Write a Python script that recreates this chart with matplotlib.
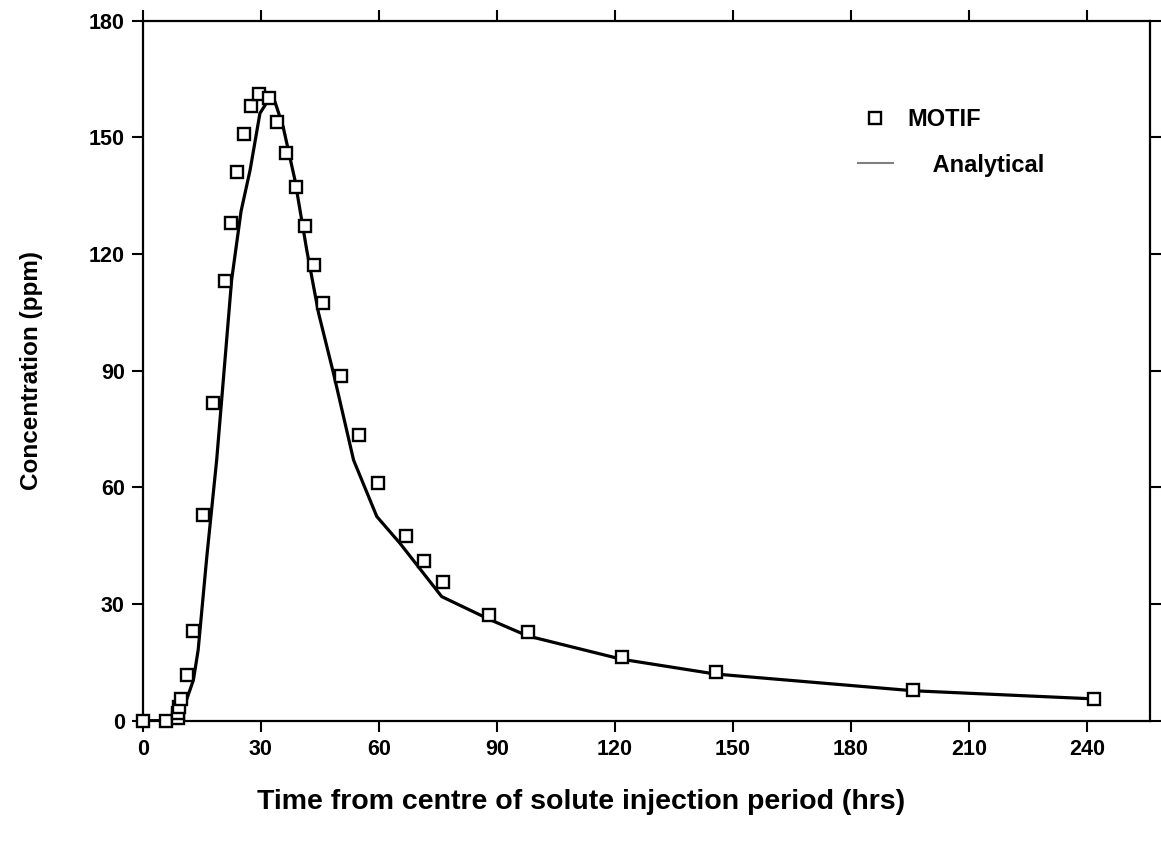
import matplotlib
matplotlib.use('Agg')
import matplotlib.pyplot as plt
from matplotlib.lines import Line2D

# MOTIF simulation results
motif_time = [0, 5.8, 8.9, 9.1, 9.3, 9.8, 11.2, 12.7, 15.4, 17.8, 20.9, 22.4,
              23.9, 25.7, 27.5, 29.6, 32.1, 34.2, 36.4, 39.0, 41.3, 43.6, 45.8,
              50.4, 55.1, 59.7, 66.8, 71.5, 76.3, 88.1, 98.0, 121.9, 145.8,
              195.7, 241.7]
motif_conc = [0, 0, 0.6, 1.9, 3.4, 5.5, 11.7, 23.1, 52.9, 81.6, 113.1, 128.1,
              141.2, 150.9, 158.1, 161.1, 160.2, 154.0, 146.1, 137.3, 127.2,
              117.1, 107.3, 88.6, 73.5, 61.2, 47.5, 41.0, 35.7, 27.2, 22.9,
              16.3, 12.6, 7.9, 5.6]

# Analytical solution
ana_time = [0, 5.8, 8.6, 11.2, 12.9, 14.1, 16.3, 18.8, 22.6, 25.0, 27.3, 29.8,
            32.2, 33.6, 35.7, 38.7, 41.7, 44.7, 48.5, 53.6, 59.5, 65.4, 76.0,
            88.2, 97.8, 121.7, 145.5, 195.7, 241.7]
ana_conc = [0, 0, 0.2, 5.5, 10.5, 18.2, 42.2, 67.0, 113.3, 131.0, 141.6, 156.2,
            160.0, 159.2, 152.7, 139.0, 121.0, 104.8, 89.3, 67.0, 52.5, 45.6,
            31.9, 26.0, 21.8, 15.8, 12.0, 7.7, 5.6]

xticks = [0, 30, 60, 90, 120, 150, 180, 210, 240]
yticks = [0, 30, 60, 90, 120, 150, 180]

plt.rcParams['font.family'] = ['Liberation Sans', 'DejaVu Sans']

fig = plt.figure(figsize=(11.61, 8.42), dpi=100)
ax = fig.add_axes([0.1229, 0.1441, 0.8676, 0.8313])

ax.plot(ana_time, ana_conc, color='black', lw=2.3, zorder=2)
ax.plot(motif_time, motif_conc, ls='none', marker='s', ms=8.3, mfc='white',
        mec='black', mew=1.7, clip_on=False, zorder=3)

ax.set_xlim(0, 256)
ax.set_ylim(0, 180)
ax.set_xticks(xticks)
ax.set_yticks(yticks)

for s in ax.spines.values():
    s.set_linewidth(1.6)

ax.tick_params(which='both', direction='out', length=8, width=1.5,
               top=True, right=True, labelsize=15.5)
ax.tick_params(axis='x', pad=5)
ax.tick_params(axis='y', pad=5)
for lab in ax.get_xticklabels() + ax.get_yticklabels():
    lab.set_fontweight('bold')

ax.set_xlabel('Time from centre of solute injection period (hrs)',
              fontsize=20.5, fontweight='bold')
ax.xaxis.set_label_coords(0.435, -0.097)
ax.set_ylabel('Concentration (ppm)', fontsize=17.5, fontweight='bold',
              labelpad=33)

handles = [
    Line2D([], [], ls='none', marker='s', ms=8.3, mfc='white', mec='black',
           mew=1.7),
    Line2D([], [], color='gray', lw=1.5),
]
ax.legend(handles, ['MOTIF', '    Analytical'], loc='upper left',
          bbox_to_anchor=(0.710, 0.875), frameon=False, borderpad=0,
          borderaxespad=0, handlelength=1.48, handletextpad=0.6,
          labelspacing=0.95, prop={'weight': 'bold', 'size': 17})

fig.savefig('out.png', dpi=100)
